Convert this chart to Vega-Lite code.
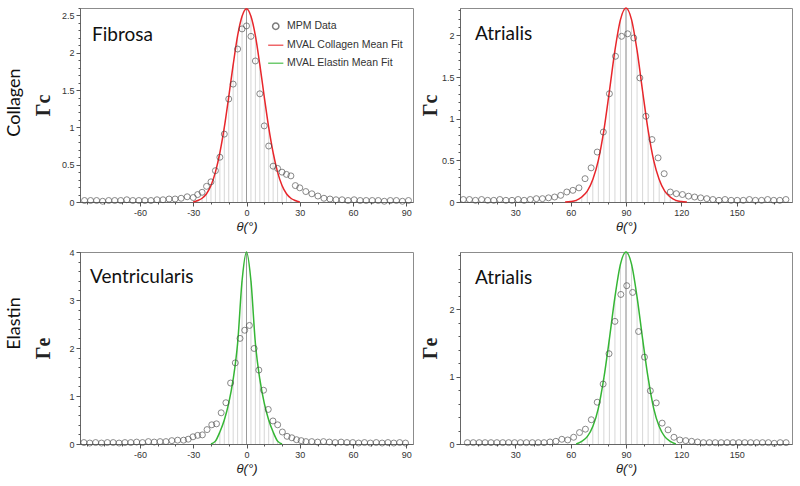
{
  "$schema": "https://vega.github.io/schema/vega-lite/v6.json",
  "padding": {"left": 4, "top": 4, "right": 0, "bottom": 0},
  "config": {
    "view": {"stroke": "#8c8c8c", "strokeWidth": 1},
    "font": "Liberation Sans",
    "axis": {"labelFont": "Liberation Sans", "labelFontSize": 9, "labelColor": "#333333", "tickColor": "#555555", "domainColor": "#666666", "grid": false, "tickSize": 4, "labelPadding": 2, "titleFont": "Liberation Sans", "titleFontWeight": "normal", "titleColor": "#222222", "labelFlush": false, "labelOverlap": false}
  },
  "datasets": {
    "tl_pts": [
      {"theta": -91.2, "gamma": 0.02}, {"theta": -87.8, "gamma": 0.02}, {"theta": -84.4, "gamma": 0.02}, {"theta": -81, "gamma": 0.01}, {"theta": -77.6, "gamma": 0.02}, {"theta": -74.2, "gamma": 0.02}, {"theta": -70.8, "gamma": 0.02}, {"theta": -67.4, "gamma": 0.03}, {"theta": -64, "gamma": 0.02}, {"theta": -60.6, "gamma": 0.02}, {"theta": -57.2, "gamma": 0.02}, {"theta": -53.8, "gamma": 0.02}, {"theta": -50.4, "gamma": 0.03}, {"theta": -47, "gamma": 0.03}, {"theta": -43.6, "gamma": 0.04}, {"theta": -40.2, "gamma": 0.04}, {"theta": -36.8, "gamma": 0.05}, {"theta": -33.4, "gamma": 0.07},
      {"theta": -30, "gamma": 0.06}, {"theta": -27.5, "gamma": 0.1}, {"theta": -25, "gamma": 0.13}, {"theta": -22.5, "gamma": 0.21}, {"theta": -20, "gamma": 0.27}, {"theta": -17.5, "gamma": 0.42}, {"theta": -15, "gamma": 0.6}, {"theta": -12.5, "gamma": 0.91}, {"theta": -10, "gamma": 1.38}, {"theta": -7.5, "gamma": 1.58}, {"theta": -5, "gamma": 2.05}, {"theta": -2.5, "gamma": 2.32}, {"theta": 0, "gamma": 2.36}, {"theta": 2.5, "gamma": 2.22}, {"theta": 5, "gamma": 1.89}, {"theta": 7.5, "gamma": 1.45}, {"theta": 10, "gamma": 1.02}, {"theta": 12.5, "gamma": 0.75}, {"theta": 15, "gamma": 0.48}, {"theta": 17.5, "gamma": 0.45}, {"theta": 20, "gamma": 0.4}, {"theta": 22.5, "gamma": 0.37}, {"theta": 25, "gamma": 0.35}, {"theta": 27.5, "gamma": 0.22}, {"theta": 30, "gamma": 0.19},
      {"theta": 33.4, "gamma": 0.14}, {"theta": 36.8, "gamma": 0.11}, {"theta": 40.2, "gamma": 0.08}, {"theta": 43.6, "gamma": 0.05}, {"theta": 47, "gamma": 0.04}, {"theta": 50.4, "gamma": 0.03}, {"theta": 53.8, "gamma": 0.03}, {"theta": 57.2, "gamma": 0.02}, {"theta": 60.6, "gamma": 0.03}, {"theta": 64, "gamma": 0.02}, {"theta": 67.4, "gamma": 0.02}, {"theta": 70.8, "gamma": 0.02}, {"theta": 74.2, "gamma": 0.02}, {"theta": 77.6, "gamma": 0.01}, {"theta": 81, "gamma": 0.02}, {"theta": 84.4, "gamma": 0.02}, {"theta": 87.8, "gamma": 0.01}, {"theta": 91.2, "gamma": 0.02}
    ],
    "tl_fit": [
      {"theta": -30, "gamma": 0}, {"theta": -27.5, "gamma": 0.02}, {"theta": -25, "gamma": 0.05}, {"theta": -22.5, "gamma": 0.11}, {"theta": -20, "gamma": 0.22}, {"theta": -17.5, "gamma": 0.4}, {"theta": -15, "gamma": 0.66}, {"theta": -12.5, "gamma": 1.0}, {"theta": -10, "gamma": 1.41}, {"theta": -7.5, "gamma": 1.84}, {"theta": -5, "gamma": 2.23}, {"theta": -2.5, "gamma": 2.49}, {"theta": 0, "gamma": 2.59}, {"theta": 2.5, "gamma": 2.49}, {"theta": 5, "gamma": 2.23}, {"theta": 7.5, "gamma": 1.84}, {"theta": 10, "gamma": 1.41}, {"theta": 12.5, "gamma": 1.0}, {"theta": 15, "gamma": 0.66}, {"theta": 17.5, "gamma": 0.4}, {"theta": 20, "gamma": 0.22}, {"theta": 22.5, "gamma": 0.11}, {"theta": 25, "gamma": 0.05}, {"theta": 27.5, "gamma": 0.02}, {"theta": 30, "gamma": 0}
    ],
    "tr_pts": [
      {"theta": 1.8, "gamma": 0.03}, {"theta": 5.1, "gamma": 0.03}, {"theta": 8.4, "gamma": 0.02}, {"theta": 11.7, "gamma": 0.03}, {"theta": 15.0, "gamma": 0.02}, {"theta": 18.3, "gamma": 0.02}, {"theta": 21.6, "gamma": 0.03}, {"theta": 24.9, "gamma": 0.02}, {"theta": 28.2, "gamma": 0.02}, {"theta": 31.5, "gamma": 0.03}, {"theta": 34.8, "gamma": 0.02}, {"theta": 38.1, "gamma": 0.03}, {"theta": 41.4, "gamma": 0.04}, {"theta": 44.7, "gamma": 0.04}, {"theta": 48.0, "gamma": 0.05}, {"theta": 51.3, "gamma": 0.06}, {"theta": 54.6, "gamma": 0.08}, {"theta": 57.9, "gamma": 0.12}, {"theta": 61.2, "gamma": 0.14}, {"theta": 64.5, "gamma": 0.17}, {"theta": 67.8, "gamma": 0.28}, {"theta": 71.1, "gamma": 0.41}, {"theta": 74.4, "gamma": 0.6}, {"theta": 77.7, "gamma": 0.84}, {"theta": 81.0, "gamma": 1.3}, {"theta": 84.3, "gamma": 1.75}, {"theta": 87.6, "gamma": 1.99}, {"theta": 90.9, "gamma": 2.02}, {"theta": 94.2, "gamma": 1.97}, {"theta": 97.5, "gamma": 1.49}, {"theta": 100.8, "gamma": 1.03}, {"theta": 104.1, "gamma": 0.75}, {"theta": 107.4, "gamma": 0.53}, {"theta": 110.7, "gamma": 0.34}, {"theta": 114.0, "gamma": 0.12}, {"theta": 117.3, "gamma": 0.1}, {"theta": 120.6, "gamma": 0.09}, {"theta": 123.9, "gamma": 0.07}, {"theta": 127.2, "gamma": 0.06}, {"theta": 130.5, "gamma": 0.05}, {"theta": 133.8, "gamma": 0.04}, {"theta": 137.1, "gamma": 0.03}, {"theta": 140.4, "gamma": 0.02}, {"theta": 143.7, "gamma": 0.03}, {"theta": 147.0, "gamma": 0.02}, {"theta": 150.3, "gamma": 0.02}, {"theta": 153.6, "gamma": 0.02}, {"theta": 156.9, "gamma": 0.03}, {"theta": 160.2, "gamma": 0.02}, {"theta": 163.5, "gamma": 0.02}, {"theta": 166.8, "gamma": 0.03}, {"theta": 170.1, "gamma": 0.02}, {"theta": 173.4, "gamma": 0.02}, {"theta": 176.7, "gamma": 0.03}
    ],
    "tr_fit": [
      {"theta": 57, "gamma": 0}, {"theta": 60, "gamma": 0.005}, {"theta": 63, "gamma": 0.02}, {"theta": 66, "gamma": 0.06}, {"theta": 69, "gamma": 0.13}, {"theta": 72, "gamma": 0.27}, {"theta": 75, "gamma": 0.5}, {"theta": 78, "gamma": 0.86}, {"theta": 81, "gamma": 1.33}, {"theta": 84, "gamma": 1.82}, {"theta": 87, "gamma": 2.19}, {"theta": 90, "gamma": 2.33}, {"theta": 93, "gamma": 2.19}, {"theta": 96, "gamma": 1.82}, {"theta": 99, "gamma": 1.33}, {"theta": 102, "gamma": 0.86}, {"theta": 105, "gamma": 0.5}, {"theta": 108, "gamma": 0.27}, {"theta": 111, "gamma": 0.13}, {"theta": 114, "gamma": 0.06}, {"theta": 117, "gamma": 0.02}, {"theta": 120, "gamma": 0.005}, {"theta": 123, "gamma": 0}
    ],
    "bl_pts": [
      {"theta": -91.55, "gamma": 0.03}, {"theta": -88.25, "gamma": 0.02}, {"theta": -84.95, "gamma": 0.03}, {"theta": -81.65, "gamma": 0.02}, {"theta": -78.35, "gamma": 0.03}, {"theta": -75.05, "gamma": 0.03}, {"theta": -71.75, "gamma": 0.02}, {"theta": -68.45, "gamma": 0.03}, {"theta": -65.15, "gamma": 0.03}, {"theta": -61.85, "gamma": 0.04}, {"theta": -58.55, "gamma": 0.03}, {"theta": -55.25, "gamma": 0.05}, {"theta": -51.95, "gamma": 0.04}, {"theta": -48.65, "gamma": 0.05}, {"theta": -45.35, "gamma": 0.05}, {"theta": -42.05, "gamma": 0.07}, {"theta": -38.75, "gamma": 0.08}, {"theta": -35.45, "gamma": 0.08}, {"theta": -32.8, "gamma": 0.1}, {"theta": -30.15, "gamma": 0.15}, {"theta": -27.5, "gamma": 0.18}, {"theta": -24.85, "gamma": 0.19}, {"theta": -22.2, "gamma": 0.3}, {"theta": -19.55, "gamma": 0.4}, {"theta": -16.9, "gamma": 0.42}, {"theta": -14.25, "gamma": 0.65}, {"theta": -11.6, "gamma": 0.86}, {"theta": -8.95, "gamma": 1.27}, {"theta": -6.3, "gamma": 1.69}, {"theta": -3.65, "gamma": 2.2}, {"theta": -1.0, "gamma": 2.37}, {"theta": 1.65, "gamma": 2.47}, {"theta": 4.3, "gamma": 1.99}, {"theta": 6.95, "gamma": 1.54}, {"theta": 9.6, "gamma": 1.12}, {"theta": 12.25, "gamma": 0.72}, {"theta": 14.9, "gamma": 0.48}, {"theta": 17.55, "gamma": 0.4}, {"theta": 20.2, "gamma": 0.25}, {"theta": 22.85, "gamma": 0.16}, {"theta": 25.5, "gamma": 0.13}, {"theta": 28.15, "gamma": 0.09}, {"theta": 30.8, "gamma": 0.07}, {"theta": 33.45, "gamma": 0.05}, {"theta": 36.75, "gamma": 0.05}, {"theta": 40.05, "gamma": 0.04}, {"theta": 43.35, "gamma": 0.05}, {"theta": 46.65, "gamma": 0.04}, {"theta": 49.95, "gamma": 0.03}, {"theta": 53.25, "gamma": 0.04}, {"theta": 56.55, "gamma": 0.03}, {"theta": 59.85, "gamma": 0.03}, {"theta": 63.15, "gamma": 0.02}, {"theta": 66.45, "gamma": 0.03}, {"theta": 69.75, "gamma": 0.02}, {"theta": 73.05, "gamma": 0.03}, {"theta": 76.35, "gamma": 0.02}, {"theta": 79.65, "gamma": 0.03}, {"theta": 82.95, "gamma": 0.02}, {"theta": 86.25, "gamma": 0.03}, {"theta": 89.55, "gamma": 0.02}
    ],
    "bl_fit": [
      {"theta": -20, "gamma": 0}, {"theta": -17.5, "gamma": 0.06}, {"theta": -15, "gamma": 0.25}, {"theta": -12.5, "gamma": 0.5}, {"theta": -10, "gamma": 0.85}, {"theta": -7.5, "gamma": 1.35}, {"theta": -5, "gamma": 2.1}, {"theta": -2.5, "gamma": 3.4}, {"theta": 0, "gamma": 4.0}, {"theta": 2.5, "gamma": 3.4}, {"theta": 5, "gamma": 2.1}, {"theta": 7.5, "gamma": 1.35}, {"theta": 10, "gamma": 0.85}, {"theta": 12.5, "gamma": 0.5}, {"theta": 15, "gamma": 0.25}, {"theta": 17.5, "gamma": 0.06}, {"theta": 20, "gamma": 0}
    ],
    "br_pts": [
      {"theta": 4.0, "gamma": 0.02}, {"theta": 7.2, "gamma": 0.02}, {"theta": 10.4, "gamma": 0.02}, {"theta": 13.6, "gamma": 0.02}, {"theta": 16.8, "gamma": 0.02}, {"theta": 20.0, "gamma": 0.02}, {"theta": 23.2, "gamma": 0.02}, {"theta": 26.4, "gamma": 0.02}, {"theta": 29.6, "gamma": 0.02}, {"theta": 32.8, "gamma": 0.02}, {"theta": 36.0, "gamma": 0.02}, {"theta": 39.2, "gamma": 0.02}, {"theta": 42.4, "gamma": 0.02}, {"theta": 45.6, "gamma": 0.02}, {"theta": 48.8, "gamma": 0.03}, {"theta": 52.0, "gamma": 0.04}, {"theta": 55.2, "gamma": 0.07}, {"theta": 58.4, "gamma": 0.06}, {"theta": 61.6, "gamma": 0.1}, {"theta": 64.8, "gamma": 0.17}, {"theta": 68.0, "gamma": 0.22}, {"theta": 71.2, "gamma": 0.36}, {"theta": 74.4, "gamma": 0.62}, {"theta": 77.6, "gamma": 0.89}, {"theta": 80.8, "gamma": 1.34}, {"theta": 84.0, "gamma": 1.82}, {"theta": 87.2, "gamma": 2.22}, {"theta": 90.4, "gamma": 2.35}, {"theta": 93.6, "gamma": 2.25}, {"theta": 96.8, "gamma": 1.67}, {"theta": 100.0, "gamma": 1.29}, {"theta": 103.2, "gamma": 0.79}, {"theta": 106.4, "gamma": 0.61}, {"theta": 109.6, "gamma": 0.31}, {"theta": 112.8, "gamma": 0.21}, {"theta": 116.0, "gamma": 0.1}, {"theta": 119.2, "gamma": 0.06}, {"theta": 122.4, "gamma": 0.05}, {"theta": 125.6, "gamma": 0.04}, {"theta": 128.8, "gamma": 0.03}, {"theta": 132.0, "gamma": 0.02}, {"theta": 135.2, "gamma": 0.02}, {"theta": 138.4, "gamma": 0.02}, {"theta": 141.6, "gamma": 0.02}, {"theta": 144.8, "gamma": 0.02}, {"theta": 148.0, "gamma": 0.02}, {"theta": 151.2, "gamma": 0.02}, {"theta": 154.4, "gamma": 0.02}, {"theta": 157.6, "gamma": 0.02}, {"theta": 160.8, "gamma": 0.02}, {"theta": 164.0, "gamma": 0.02}, {"theta": 167.2, "gamma": 0.02}, {"theta": 170.4, "gamma": 0.01}, {"theta": 173.6, "gamma": 0.02}, {"theta": 176.8, "gamma": 0.02}
    ],
    "br_fit": [
      {"theta": 63, "gamma": 0}, {"theta": 66, "gamma": 0.04}, {"theta": 69, "gamma": 0.11}, {"theta": 72, "gamma": 0.26}, {"theta": 75, "gamma": 0.53}, {"theta": 78, "gamma": 0.98}, {"theta": 81, "gamma": 1.56}, {"theta": 84, "gamma": 2.18}, {"theta": 87, "gamma": 2.67}, {"theta": 90, "gamma": 2.85}, {"theta": 93, "gamma": 2.67}, {"theta": 96, "gamma": 2.18}, {"theta": 99, "gamma": 1.56}, {"theta": 102, "gamma": 0.98}, {"theta": 105, "gamma": 0.53}, {"theta": 108, "gamma": 0.26}, {"theta": 111, "gamma": 0.11}, {"theta": 114, "gamma": 0.04}, {"theta": 117, "gamma": 0}
    ]
  },
  "columns": 2,
  "spacing": {"row": 50, "column": 47},
  "bounds": "flush",
  "concat": [
    {
      "width": 333, "height": 194,
      "title": {"text": "Fibrosa", "anchor": "start", "frame": "group", "offset": -54, "dx": 12, "baseline": "alphabetic", "font": "Lato", "fontSize": 19, "fontWeight": "normal", "color": "#111111"},
      "resolve": {"axis": {"x": "independent", "y": "independent"}},
      "layer": [
        {"data": {"name": "tl_fit"}, "mark": {"type": "rule", "color": "#cdcdcd", "strokeWidth": 0.8},
         "encoding": {
           "x": {"field": "theta", "type": "quantitative", "scale": {"domain": [-93.75, 93.75], "nice": false, "zero": false}, "axis": {"orient": "bottom", "values": [-60, -30, 0, 30, 60, 90], "labelExpr": "'' + datum.value", "title": "θ(°)", "titleFontStyle": "italic", "titleFontSize": 13, "titlePadding": 3}},
           "y": {"field": "gamma", "type": "quantitative", "scale": {"domain": [0, 2.6], "nice": false}, "axis": {"orient": "left", "values": [0, 0.5, 1, 1.5, 2, 2.5], "format": "~g", "title": "Γc", "titleFont": "Liberation Serif", "titleFontWeight": "bold", "titleFontSize": 20, "titleX": -27, "titleY": 97}},
           "y2": {"datum": 0}}},
        {"data": {"name": "tl_fit"}, "transform": [{"filter": {"field": "theta", "equal": 0}}], "mark": {"type": "rule", "color": "#9a9a9a", "strokeWidth": 1},
         "encoding": {
           "x": {"field": "theta", "type": "quantitative", "axis": {"orient": "bottom", "values": [-90, -80, -70, -60, -50, -40, -30, -20, -10, 0, 10, 20, 30, 40, 50, 60, 70, 80, 90], "labels": false, "domain": false, "tickSize": 2, "title": null}},
           "y": {"field": "gamma", "type": "quantitative", "axis": {"orient": "left", "values": [0, 0.1, 0.2, 0.3, 0.4, 0.5, 0.6, 0.7, 0.8, 0.9, 1, 1.1, 1.2, 1.3, 1.4, 1.5, 1.6, 1.7, 1.8, 1.9, 2, 2.1, 2.2, 2.3, 2.4, 2.5, 2.6], "labels": false, "domain": false, "tickSize": 2, "title": null}},
           "y2": {"datum": 0}}},
        {"data": {"name": "tl_fit"}, "transform": [{"calculate": "'MVAL Collagen Mean Fit'", "as": "series"}], "mark": {"type": "line", "interpolate": "monotone", "strokeWidth": 1.5},
         "encoding": {
           "x": {"field": "theta", "type": "quantitative", "axis": null},
           "y": {"field": "gamma", "type": "quantitative", "axis": {"orient": "left", "title": "Collagen", "labels": false, "ticks": false, "domain": false, "titleFont": "Lato", "titleFontSize": 18, "titleColor": "#111111", "titleX": -57, "titleY": 94}},
           "color": {"field": "series", "type": "nominal", "scale": {"domain": ["MPM Data", "MVAL Collagen Mean Fit", "MVAL Elastin Mean Fit"], "range": ["#444444", "#e8262b", "#35b635"]}, "legend": {"orient": "none", "legendX": 190.5, "legendY": 13, "title": null, "labelFont": "Liberation Sans", "labelFontSize": 10.5, "labelColor": "#333333", "symbolSize": 40, "symbolStrokeWidth": 1.5, "rowPadding": 7, "labelOffset": 6, "padding": 0}}}},
        {"data": {"name": "tl_pts"}, "transform": [{"calculate": "'MPM Data'", "as": "series"}], "mark": {"type": "point", "filled": false, "size": 36, "strokeWidth": 0.9},
         "encoding": {
           "x": {"field": "theta", "type": "quantitative", "axis": null},
           "y": {"field": "gamma", "type": "quantitative", "axis": null},
           "color": {"field": "series", "type": "nominal", "scale": {"domain": ["MPM Data", "MVAL Collagen Mean Fit", "MVAL Elastin Mean Fit"], "range": ["#444444", "#e8262b", "#35b635"]}, "legend": {"orient": "none", "legendX": 190.5, "legendY": 13, "title": null, "labelFont": "Liberation Sans", "labelFontSize": 10.5, "labelColor": "#333333", "symbolSize": 40, "symbolStrokeWidth": 1.5, "rowPadding": 7, "labelOffset": 6, "padding": 0}},
           "shape": {"field": "series", "type": "nominal", "scale": {"domain": ["MPM Data", "MVAL Collagen Mean Fit", "MVAL Elastin Mean Fit"], "range": ["circle", "M-2.4,0H2.4", "M-2.4,0H2.4"]}, "legend": {"orient": "none", "legendX": 190.5, "legendY": 13, "title": null, "labelFont": "Liberation Sans", "labelFontSize": 10.5, "labelColor": "#333333", "symbolSize": 40, "symbolStrokeWidth": 1.5, "rowPadding": 7, "labelOffset": 6, "padding": 0}}}}
      ]
    },
    {
      "width": 332, "height": 194,
      "title": {"text": "Atrialis", "anchor": "start", "frame": "group", "offset": -54, "dx": 15, "baseline": "alphabetic", "font": "Lato", "fontSize": 19, "fontWeight": "normal", "color": "#111111"},
      "resolve": {"axis": {"x": "independent", "y": "independent"}},
      "layer": [
        {"data": {"name": "tr_fit"}, "mark": {"type": "rule", "color": "#cdcdcd", "strokeWidth": 0.8},
         "encoding": {
           "x": {"field": "theta", "type": "quantitative", "scale": {"domain": [0, 180], "nice": false, "zero": false}, "axis": {"orient": "bottom", "values": [30, 60, 90, 120, 150], "title": "θ(°)", "titleFontStyle": "italic", "titleFontSize": 13, "titlePadding": 3}},
           "y": {"field": "gamma", "type": "quantitative", "scale": {"domain": [0, 2.33], "nice": false}, "axis": {"orient": "left", "values": [0, 0.5, 1, 1.5, 2], "format": "~g", "title": "Γc", "titleFont": "Liberation Serif", "titleFontWeight": "bold", "titleFontSize": 20, "titleX": -20, "titleY": 97}},
           "y2": {"datum": 0}}},
        {"data": {"name": "tr_fit"}, "transform": [{"filter": {"field": "theta", "equal": 90}}], "mark": {"type": "rule", "color": "#9a9a9a", "strokeWidth": 1},
         "encoding": {
           "x": {"field": "theta", "type": "quantitative", "axis": {"orient": "bottom", "values": [10, 20, 30, 40, 50, 60, 70, 80, 90, 100, 110, 120, 130, 140, 150, 160, 170], "labels": false, "domain": false, "tickSize": 2, "title": null}},
           "y": {"field": "gamma", "type": "quantitative", "axis": {"orient": "left", "values": [0, 0.1, 0.2, 0.3, 0.4, 0.5, 0.6, 0.7, 0.8, 0.9, 1, 1.1, 1.2, 1.3, 1.4, 1.5, 1.6, 1.7, 1.8, 1.9, 2, 2.1, 2.2, 2.3], "labels": false, "domain": false, "tickSize": 2, "title": null}},
           "y2": {"datum": 0}}},
        {"data": {"name": "tr_fit"}, "mark": {"type": "line", "interpolate": "monotone", "strokeWidth": 1.5, "color": "#e8262b"},
         "encoding": {"x": {"field": "theta", "type": "quantitative", "axis": null}, "y": {"field": "gamma", "type": "quantitative", "axis": null}}},
        {"data": {"name": "tr_pts"}, "mark": {"type": "point", "filled": false, "size": 36, "strokeWidth": 0.9, "color": "#444444"},
         "encoding": {"x": {"field": "theta", "type": "quantitative", "axis": null}, "y": {"field": "gamma", "type": "quantitative", "axis": null}}}
      ]
    },
    {
      "width": 333, "height": 192,
      "title": {"text": "Ventricularis", "anchor": "start", "frame": "group", "offset": -54, "dx": 10, "baseline": "alphabetic", "font": "Lato", "fontSize": 19, "fontWeight": "normal", "color": "#111111"},
      "resolve": {"axis": {"x": "independent", "y": "independent"}},
      "layer": [
        {"data": {"name": "bl_fit"}, "mark": {"type": "rule", "color": "#cdcdcd", "strokeWidth": 0.8},
         "encoding": {
           "x": {"field": "theta", "type": "quantitative", "scale": {"domain": [-93.75, 93.75], "nice": false, "zero": false}, "axis": {"orient": "bottom", "values": [-60, -30, 0, 30, 60, 90], "labelExpr": "'' + datum.value", "title": "θ(°)", "titleFontStyle": "italic", "titleFontSize": 13, "titlePadding": 3}},
           "y": {"field": "gamma", "type": "quantitative", "scale": {"domain": [0, 4], "nice": false}, "axis": {"orient": "left", "values": [0, 1, 2, 3, 4], "format": "~g", "title": "Γe", "titleFont": "Liberation Serif", "titleFontWeight": "bold", "titleFontSize": 20, "titleX": -27, "titleY": 96}},
           "y2": {"datum": 0}}},
        {"data": {"name": "bl_fit"}, "transform": [{"filter": {"field": "theta", "equal": 0}}], "mark": {"type": "rule", "color": "#9a9a9a", "strokeWidth": 1},
         "encoding": {
           "x": {"field": "theta", "type": "quantitative", "axis": {"orient": "bottom", "values": [-90, -80, -70, -60, -50, -40, -30, -20, -10, 0, 10, 20, 30, 40, 50, 60, 70, 80, 90], "labels": false, "domain": false, "tickSize": 2, "title": null}},
           "y": {"field": "gamma", "type": "quantitative", "axis": {"orient": "left", "values": [0, 0.2, 0.4, 0.6, 0.8, 1, 1.2, 1.4, 1.6, 1.8, 2, 2.2, 2.4, 2.6, 2.8, 3, 3.2, 3.4, 3.6, 3.8, 4], "labels": false, "domain": false, "tickSize": 2, "title": null}},
           "y2": {"datum": 0}}},
        {"data": {"name": "bl_fit"}, "mark": {"type": "line", "interpolate": "monotone", "strokeWidth": 1.5, "color": "#35b635"},
         "encoding": {"x": {"field": "theta", "type": "quantitative", "axis": null}, "y": {"field": "gamma", "type": "quantitative", "axis": {"orient": "left", "title": "Elastin", "labels": false, "ticks": false, "domain": false, "titleFont": "Lato", "titleFontSize": 18, "titleColor": "#111111", "titleX": -57, "titleY": 71}}}},
        {"data": {"name": "bl_pts"}, "mark": {"type": "point", "filled": false, "size": 36, "strokeWidth": 0.9, "color": "#444444"},
         "encoding": {"x": {"field": "theta", "type": "quantitative", "axis": null}, "y": {"field": "gamma", "type": "quantitative", "axis": null}}}
      ]
    },
    {
      "width": 332, "height": 192,
      "title": {"text": "Atrialis", "anchor": "start", "frame": "group", "offset": -54, "dx": 15, "baseline": "alphabetic", "font": "Lato", "fontSize": 19, "fontWeight": "normal", "color": "#111111"},
      "resolve": {"axis": {"x": "independent", "y": "independent"}},
      "layer": [
        {"data": {"name": "br_fit"}, "mark": {"type": "rule", "color": "#cdcdcd", "strokeWidth": 0.8},
         "encoding": {
           "x": {"field": "theta", "type": "quantitative", "scale": {"domain": [0, 180], "nice": false, "zero": false}, "axis": {"orient": "bottom", "values": [30, 60, 90, 120, 150], "title": "θ(°)", "titleFontStyle": "italic", "titleFontSize": 13, "titlePadding": 3}},
           "y": {"field": "gamma", "type": "quantitative", "scale": {"domain": [0, 2.85], "nice": false}, "axis": {"orient": "left", "values": [0, 1, 2], "format": "~g", "title": "Γe", "titleFont": "Liberation Serif", "titleFontWeight": "bold", "titleFontSize": 20, "titleX": -20, "titleY": 96}},
           "y2": {"datum": 0}}},
        {"data": {"name": "br_fit"}, "transform": [{"filter": {"field": "theta", "equal": 90}}], "mark": {"type": "rule", "color": "#9a9a9a", "strokeWidth": 1},
         "encoding": {
           "x": {"field": "theta", "type": "quantitative", "axis": {"orient": "bottom", "values": [10, 20, 30, 40, 50, 60, 70, 80, 90, 100, 110, 120, 130, 140, 150, 160, 170], "labels": false, "domain": false, "tickSize": 2, "title": null}},
           "y": {"field": "gamma", "type": "quantitative", "axis": {"orient": "left", "values": [0, 0.2, 0.4, 0.6, 0.8, 1, 1.2, 1.4, 1.6, 1.8, 2, 2.2, 2.4, 2.6, 2.8], "labels": false, "domain": false, "tickSize": 2, "title": null}},
           "y2": {"datum": 0}}},
        {"data": {"name": "br_fit"}, "mark": {"type": "line", "interpolate": "monotone", "strokeWidth": 1.5, "color": "#35b635"},
         "encoding": {"x": {"field": "theta", "type": "quantitative", "axis": null}, "y": {"field": "gamma", "type": "quantitative", "axis": null}}},
        {"data": {"name": "br_pts"}, "mark": {"type": "point", "filled": false, "size": 36, "strokeWidth": 0.9, "color": "#444444"},
         "encoding": {"x": {"field": "theta", "type": "quantitative", "axis": null}, "y": {"field": "gamma", "type": "quantitative", "axis": null}}}
      ]
    }
  ]
}
